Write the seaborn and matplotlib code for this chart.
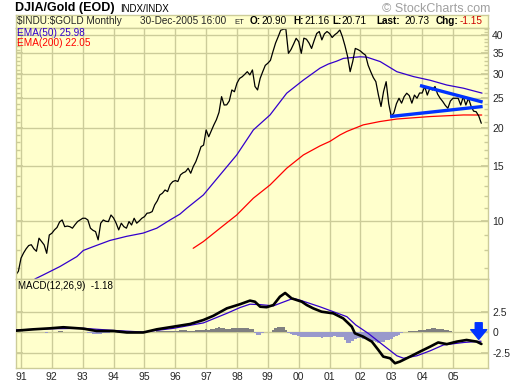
import matplotlib

matplotlib.use("Agg")
import matplotlib.pyplot as plt
import numpy as np
import seaborn as sns

# ---- monthly DJIA/Gold ratio, Nov 1990 .. Dec 2005 ----
price_1990 = [6.66, 6.85]
price_1991 = [7.55, 7.85, 8.1, 8.3, 8.35, 8.1, 7.95, 8.77, 8.55, 8.34, 7.83, 8.98]
price_1992 = [9.1, 9.33, 9.5, 9.9, 10.05, 9.56, 9.6, 9.56, 9.45, 9.7, 9.93, 10.05]
price_1993 = [10.18, 10.18, 10.05, 9.45, 9.3, 9.21, 8.66, 9.81, 10.05, 9.95, 9.93, 10.43]
price_1994 = [10.2, 9.81, 9.33, 9.81, 9.56, 9.45, 9.93, 9.68, 10.18, 9.81, 9.98, 10.18]
price_1995 = [10.3, 10.57, 10.6, 10.7, 11.25, 11.6, 12.12, 12.28, 12.58, 12.43, 13.1, 13.39]
price_1996 = [13.5, 13.4, 14.08, 14.3, 14.43, 14.8, 14.26, 15.0, 15.56, 16.4, 17.39, 17.6]
price_1997 = [19.72, 18.74, 19.6, 20.48, 21.3, 22.5, 25.3, 23.76, 23.8, 24.5, 26.6, 26.25]
price_1998 = [28.0, 29.0, 29.36, 29.9, 30.5, 29.78, 30.9, 27.3, 26.6, 29.0, 30.5, 31.98]
price_1999 = [32.5, 33.2, 35.5, 37.8, 39.6, 41.6, 41.9, 42.0, 35.0, 36.0, 37.5, 39.15]
price_2000 = [38.2, 35.0, 39.2, 38.9, 37.8, 36.3, 38.5, 40.6, 41.2, 38.7, 40.5, 41.2]
price_2001 = [40.6, 39.4, 40.2, 40.8, 41.7, 39.6, 37.0, 34.2, 30.5, 32.9, 36.3, 36.0]
price_2002 = [35.6, 35.0, 34.5, 32.0, 30.5, 29.2, 28.3, 25.6, 23.5, 26.3, 28.3, 24.0]
price_2003 = [21.8, 22.4, 24.0, 25.0, 24.1, 25.3, 25.96, 25.5, 24.1, 25.6, 25.0, 26.0]
price_2004 = [26.0, 27.3, 25.6, 26.95, 26.6, 27.3, 25.8, 25.0, 24.4, 23.7, 23.2, 24.5]
price_2005 = [25.0, 25.0, 25.0, 23.76, 25.3, 23.76, 25.0, 23.6, 22.7, 22.6, 21.9, 20.73]

# ---- MACD histogram, same months ----
hist_1990 = [0, 0]
hist_1991 = [0.05, 0.05, 0.05, 0.05, 0.05, 0, 0, 0, 0, 0, -0.05, 0]
hist_1992 = [0, 0, 0.1, 0.15, 0.15, 0.1, 0, 0, 0, 0, 0, 0]
hist_1993 = [0, 0, -0.05, -0.1, -0.15, -0.15, -0.2, -0.15, -0.1, -0.05, -0.05, 0]
hist_1994 = [0, 0, -0.05, -0.05, -0.05, -0.05, 0, 0, 0, 0, 0, 0]
hist_1995 = [0, 0, 0, 0.05, 0.1, 0.15, 0.15, 0.2, 0.2, 0.15, 0.15, 0.2]
hist_1996 = [0.2, 0.2, 0.25, 0.25, 0.25, 0.2, 0.15, 0.2, 0.25, 0.3, 0.3, 0.35]
hist_1997 = [0.4, 0.35, 0.4, 0.45, 0.55, 0.6, 0.55, 0.5, 0.45, 0.45, 0.55, 0.5]
hist_1998 = [0.55, 0.55, 0.55, 0.5, 0.5, 0.45, 0.4, -0.05, -0.3, -0.25, -0.1, 0]
hist_1999 = [0.05, 0.1, 0.3, 0.5, 0.65, 0.7, 0.65, 0.3, -0.1, -0.2, -0.25, -0.25]
hist_2000 = [-0.45, -0.55, -0.5, -0.55, -0.6, -0.6, -0.5, -0.55, -0.6, -0.65, -0.6, -0.55]
hist_2001 = [-0.5, -0.5, -0.45, -0.5, -0.5, -0.55, -0.9, -1.25, -1.3, -1.0, -0.8, -0.7]
hist_2002 = [-0.7, -0.75, -0.8, -0.85, -0.95, -1.0, -1.1, -1.25, -1.2, -1.1, -0.9, -0.85]
hist_2003 = [-0.75, -0.6, -0.45, -0.25, -0.1, 0.05, 0.1, 0.15, 0.15, 0.2, 0.2, 0.25]
hist_2004 = [0.3, 0.35, 0.4, 0.45, 0.5, 0.5, 0.45, 0.45, 0.4, 0.35, 0.25, 0.15]
hist_2005 = [0.1, 0.05, 0.05, 0.05, 0.1, 0.1, 0.05, 0.05, 0.05, 0.05, 0, -0.05]

# ---- moving averages (decimal year, value) ----
ema50_t = [1991.45, 1991.72, 1992.26, 1992.81, 1993.02, 1993.34, 1993.88, 1994.42, 1994.96,
           1995.40, 1995.83, 1996.15, 1996.37, 1996.91, 1997.45, 1997.99, 1998.53, 1999.07,
           1999.61, 2000.15, 2000.69, 2000.96, 2001.23, 2001.45, 2001.99, 2002.21, 2002.64,
           2003.18, 2003.72, 2004.26, 2004.80, 2005.34, 2005.94]
ema50_v = [6.46, 6.66, 7.09, 7.64, 8.0, 8.23, 8.62, 8.89, 9.11,
           9.45, 10.05, 10.5, 10.97, 12.12, 14.08, 16.35, 19.72, 22.06,
           25.96, 28.64, 31.32, 32.3, 33.0, 33.7, 34.1, 34.0, 32.9,
           30.5, 29.4, 28.6, 27.6, 26.95, 25.98]

ema200_t = [1996.58, 1996.91, 1997.45, 1997.99, 1998.53, 1999.07, 1999.61, 2000.15, 2000.69,
            2001.01, 2001.34, 2001.56, 2002.09, 2002.63, 2003.18, 2004.26, 2005.34, 2005.93]
ema200_v = [8.13, 8.55, 9.45, 10.43, 11.83, 13.06, 14.8, 16.35, 17.5,
            18.1, 19.0, 19.5, 20.48, 21.0, 21.4, 21.8, 22.06, 22.05]

# ---- hand-drawn triangle trendlines ----
upper_t = [2003.93, 2005.96]
upper_v = [27.5, 24.3]
lower_t = [2002.96, 2005.96]
lower_v = [21.8, 23.5]

# ---- MACD(12,26,9) and its signal line ----
macd_t = [1990.84, 1991.40, 1991.94, 1992.37, 1993.02, 1993.45, 1993.99, 1994.43, 1994.96,
          1995.40, 1995.94, 1996.48, 1996.91, 1997.23, 1997.67, 1998.10, 1998.42, 1998.58,
          1998.75, 1998.96, 1999.18, 1999.39, 1999.56, 1999.77, 2000.10, 2000.26, 2000.47,
          2000.74, 2001.12, 2001.44, 2001.61, 2001.72, 2001.82, 2002.09, 2002.37, 2002.58,
          2002.74, 2002.96, 2003.12, 2003.28, 2003.61, 2003.93, 2004.26, 2004.52, 2004.80,
          2005.12, 2005.44, 2005.77, 2005.92]
macd_v = [0.22, 0.38, 0.5, 0.63, 0.46, 0.18, 0.18, 0.0, 0.0,
          0.38, 0.7, 1.02, 1.5, 2.0, 2.9, 3.4, 3.83, 3.7,
          3.1, 3.04, 3.3, 4.3, 4.75, 4.1, 3.7, 3.3, 2.9,
          2.5, 2.3, 1.7, 1.1, 0.7, -0.1, -0.5, -1.1, -2.1,
          -2.9, -3.1, -3.7, -3.5, -2.9, -2.3, -1.7, -1.2, -1.4,
          -1.1, -0.9, -1.1, -1.38]

signal_t = [1990.84, 1991.94, 1993.02, 1993.99, 1994.96, 1995.94, 1996.91, 1997.67, 1998.10,
            1998.42, 1998.75, 1999.18, 1999.39, 1999.82, 2000.03, 2000.68, 2001.56, 2001.85,
            2002.25, 2002.73, 2003.18, 2003.40, 2003.83, 2004.26, 2004.69, 2005.35, 2005.91]
signal_v = [0.3, 0.45, 0.5, 0.25, 0.05, 0.5, 1.15, 2.3, 3.0,
            3.4, 3.35, 3.2, 3.5, 4.1, 3.9, 3.1, 1.9, 0.9,
            -0.1, -1.5, -2.8, -3.1, -2.8, -2.2, -1.5, -1.2, -1.05]

year_ticks = list(range(1991, 2006))
year_labels = ["91", "92", "93", "94", "95", "96", "97", "98", "99",
               "00", "01", "02", "03", "04", "05"]
price_ticks = [10, 15, 20, 25, 30, 35, 40]
price_minor = [7, 8, 9, 11, 12, 13, 14, 16, 17, 18, 19, 21, 22, 23, 24,
               26, 27, 28, 29, 31, 32, 33, 34, 36, 37, 38, 39, 41, 42]
macd_ticks = [-2.5, 0, 2.5]

price = (price_1990 + price_1991 + price_1992 + price_1993 + price_1994 + price_1995
         + price_1996 + price_1997 + price_1998 + price_1999 + price_2000 + price_2001
         + price_2002 + price_2003 + price_2004 + price_2005)
hist = (hist_1990 + hist_1991 + hist_1992 + hist_1993 + hist_1994 + hist_1995
        + hist_1996 + hist_1997 + hist_1998 + hist_1999 + hist_2000 + hist_2001
        + hist_2002 + hist_2003 + hist_2004 + hist_2005)
months = 1990 + 10 / 12 + np.arange(len(price)) / 12

# ---- styling ----
sns.set_theme(style="white")
plt.rcParams["font.family"] = ["Liberation Sans", "DejaVu Sans"]

PANEL = "#FFFFCC"
GRID = "#CCCC99"
EMA50_C = "#3300CC"
EMA200_C = "#FF0000"
TREND_C = "#0033FF"

W, H = 520, 384
fig = plt.figure(figsize=(W / 100, H / 100), dpi=100)


def box(x0, y0, x1, y1):
    return [x0 / W, 1 - y1 / H, (x1 - x0) / W, (y1 - y0) / H]


def ftext(x, y, s, **kw):
    kw.setdefault("va", "center")
    kw.setdefault("ha", "left")
    fig.text(x / W, 1 - y / H, s, **kw)


ax_head = fig.add_axes(box(16, 15, 488, 28))
ax = fig.add_axes(box(16, 28, 488, 279))
ax_macd = fig.add_axes(box(16, 279, 488, 368))

for a in (ax_head, ax, ax_macd):
    a.set_facecolor(PANEL)
    for sp in a.spines.values():
        sp.set_color(GRID)
        sp.set_linewidth(1)
ax_head.set_xticks([])
ax_head.set_yticks([])

XMIN, XMAX = 1990.838, 2006.134

# ---- price panel ----
ax.set_yscale("log")
ax.set_xlim(XMIN, XMAX)
ax.set_ylim(6.46, 42.3)
ax.set_yticks(price_ticks)
ax.set_yticks(price_minor, minor=True)
ax.yaxis.set_major_formatter(matplotlib.ticker.FormatStrFormatter("%d"))
ax.yaxis.set_minor_formatter(matplotlib.ticker.NullFormatter())
ax.set_xticks(year_ticks)
ax.grid(True, which="major", color=GRID, linewidth=1)
ax.set_axisbelow(True)
ax.tick_params(axis="y", which="both", direction="in", left=True, right=True,
               labelleft=False, labelright=True, color=GRID, labelsize=7.5, pad=3)
ax.tick_params(axis="y", which="major", length=5)
ax.tick_params(axis="y", which="minor", length=3)
ax.tick_params(axis="x", length=0, labelbottom=False)

sns.lineplot(x=ema200_t, y=ema200_v, ax=ax, color=EMA200_C, linewidth=0.9,
             estimator=None, sort=False, legend=False)
sns.lineplot(x=ema50_t, y=ema50_v, ax=ax, color=EMA50_C, linewidth=0.9,
             estimator=None, sort=False, legend=False)
sns.lineplot(x=months, y=price, ax=ax, color="black", linewidth=0.9,
             estimator=None, sort=False, legend=False)
for tx, ty in ((upper_t, upper_v), (lower_t, lower_v)):
    sns.lineplot(x=tx, y=ty, ax=ax, color=TREND_C, linewidth=2.4,
                 estimator=None, sort=False, legend=False, solid_capstyle="butt")
ax.set_xlabel("")
ax.set_ylabel("")

# ---- MACD panel ----
ax_macd.set_xlim(XMIN, XMAX)
ax_macd.set_ylim(-4.27, 6.43)
bar_colors = ["#808080" if v >= 0 else "#9999CC" for v in hist]
ax_macd.bar(months, hist, width=1 / 12, color=bar_colors, linewidth=0, zorder=2)
sns.lineplot(x=signal_t, y=signal_v, ax=ax_macd, color=EMA50_C, linewidth=0.9,
             estimator=None, sort=False, legend=False, zorder=3)
sns.lineplot(x=macd_t, y=macd_v, ax=ax_macd, color="black", linewidth=1.9,
             estimator=None, sort=False, legend=False, zorder=4)
ax_macd.set_yticks(macd_ticks, ["-2.5", "0", "2.5"])
ax_macd.set_xticks(year_ticks, year_labels)
ax_macd.grid(True, color=GRID, linewidth=1)
ax_macd.set_axisbelow(True)
ax_macd.tick_params(axis="y", direction="in", left=True, right=True, labelleft=False,
                    labelright=True, length=5, color=GRID, labelsize=7.5, pad=3)
ax_macd.tick_params(axis="x", length=0, labelsize=7.5, pad=3)
ax_macd.set_xlabel("")
ax_macd.set_ylabel("")

# arrow flagging the latest MACD reading
tip = macd_v[-1] + 0.55
ax_macd.annotate("", xy=(months[-2], tip), xytext=(months[-2], tip + 2.0),
                 arrowprops=dict(arrowstyle="simple,head_width=1.15,head_length=0.7,tail_width=0.5",
                                 color=TREND_C, mutation_scale=10, shrinkA=0, shrinkB=0),
                 zorder=5)

# ---- texts ----
ftext(15, 8, "DJIA/Gold (EOD)", fontsize=9, fontweight="bold", color="black")
ftext(120, 8.5, "INDX/INDX", fontsize=7, color="black")
ftext(382, 8.5, "\u00a9 StockCharts.com", fontsize=9, color="#A0A0A0")

ftext(17, 21.5, "\\$INDU:\\$GOLD Monthly", fontsize=7.2)
ftext(140, 21.5, "30-Dec-2005 16:00", fontsize=7.2)
ftext(234, 22.3, "ET", fontsize=5.5)
for xx, s, bold, col in ((249.5, "O:", True, "black"), (261.5, "20.90", False, "black"),
                         (293.5, "H:", True, "black"), (304, "21.16", False, "black"),
                         (332.5, "L:", True, "black"), (341.5, "20.71", False, "black"),
                         (376.5, "Last:", True, "black"), (404, "20.73", False, "black"),
                         (435.5, "Chg:", True, "black"), (460, "-1.15", False, "#CC0000")):
    ftext(xx, 21.5, s, fontsize=7.2, fontweight="bold" if bold else "normal", color=col)

ftext(17, 32.5, "EMA(50) 25.98", fontsize=7.2, color=EMA50_C)
ftext(17, 42.5, "EMA(200) 22.05", fontsize=7.2, color=EMA200_C)
ftext(18, 285.7, "MACD(12,26,9)  -1.18", fontsize=7, color="black")

fig.savefig("out.png", dpi=100)
